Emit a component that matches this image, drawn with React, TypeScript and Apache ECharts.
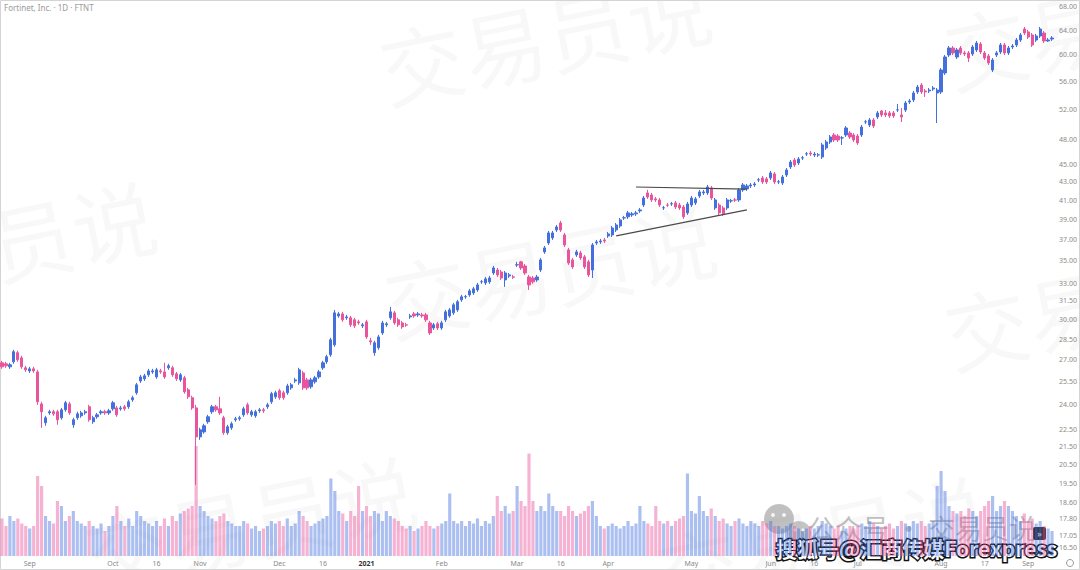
import React, { useEffect, useRef } from "react";
import * as echarts from "echarts";

// Trading calendar
const FIRST_DAY = "2020-08-21";
const LAST_DAY = "2021-09-10";
const HOLIDAYS = ["2020-09-07", "2020-11-26", "2020-12-25", "2021-01-01", "2021-01-18", "2021-02-15", "2021-04-02", "2021-05-31", "2021-07-05", "2021-09-06"];
const MID_MONTH_TICKS = ["2020-10-16", "2020-12-16", "2021-03-16", "2021-06-16", "2021-08-17"];
const MONTHS = ["Jan", "Feb", "Mar", "Apr", "May", "Jun", "Jul", "Aug", "Sep", "Oct", "Nov", "Dec"];

// Right price scale labels
const PRICE_TICKS = [68, 64, 60, 56, 52, 48, 45, 43, 41, 39, 37, 35, 33, 31.5, 30, 28.5, 27, 25.5, 24, 22.5, 21.5, 20.5, 19.5, 18.6, 17.8, 17.05, 16.5];
const PRICE_MIN = 16.15;
const PRICE_MAX = 69.23;

const OPEN = [
  26.78, 26.71, 26.50, 26.85, 27.50, 27.13, 26.43, 26.22, 26.36, 26.15,
  24.05, 22.89, 23.49, 23.56, 23.56, 23.19, 23.68, 24.05, 22.77, 23.19,
  23.31, 23.49, 23.87, 22.95, 23.25, 23.49, 23.56, 23.49, 23.74, 23.80,
  23.74, 23.87, 23.87, 24.31, 24.76, 25.54, 25.68, 25.95, 26.15, 25.81,
  26.22, 26.15, 26.43, 26.43, 26.02, 25.61, 25.75, 24.95, 24.44, 23.80,
  22.06, 22.35, 22.95, 23.56, 23.87, 23.74, 23.19, 22.30, 22.59, 23.07,
  23.13, 23.37, 23.99, 23.37, 23.31, 23.62, 23.68, 23.87, 24.18, 24.50,
  24.89, 24.76, 24.76, 25.08, 25.54, 25.41, 26.08, 25.61, 25.15, 25.48,
  25.81, 26.43, 26.85, 27.35, 28.07, 30.28, 30.44, 30.13, 30.13, 29.97,
  29.81, 29.50, 29.81, 28.37, 27.50, 27.86, 28.96, 29.58, 30.13, 30.52,
  29.97, 29.73, 29.58, 30.20, 30.44, 30.36, 30.36, 30.36, 29.73, 29.34,
  29.66, 29.34, 29.97, 30.28, 30.52, 30.76, 31.58, 31.83, 31.99, 32.16,
  32.41, 33.10, 33.01, 33.10, 33.88, 34.15, 33.97, 33.27, 33.62, 33.53,
  34.60, 34.88, 34.51, 33.53, 33.44, 33.27, 34.15, 35.80, 36.65, 37.14,
  37.92, 38.62, 37.43, 35.99, 35.06, 35.52, 35.71, 35.34, 34.88, 34.15,
  36.65, 36.75, 36.94, 37.33, 37.43, 37.92, 38.32, 39.13, 39.24, 39.44,
  39.55, 39.86, 40.48, 41.78, 41.56, 41.13, 41.02, 40.17, 40.48, 40.59,
  40.70, 40.48, 40.27, 39.65, 40.48, 40.70, 41.45, 41.78, 41.78, 42.33,
  40.17, 40.48, 40.17, 40.17, 40.91, 41.02, 41.02, 42.11, 42.22, 42.55,
  42.66, 43.22, 43.45, 43.34, 43.45, 43.91, 42.99, 42.88, 43.79, 44.72,
  45.54, 45.19, 45.78, 46.26, 46.38, 46.14, 46.14, 45.90, 47.00, 47.74,
  48.62, 48.49, 48.24, 48.62, 48.87, 48.62, 48.49, 48.62, 50.31, 49.91,
  50.57, 50.97, 51.78, 51.51, 51.51, 51.51, 51.91, 51.24, 51.91, 53.01,
  53.29, 54.42, 55.42, 54.56, 54.56, 54.84, 54.27, 54.42, 57.19, 59.95,
  61.06, 59.64, 61.06, 60.27, 60.27, 60.11, 60.74, 61.70, 60.27, 59.80,
  57.64, 59.95, 60.42, 61.54, 60.27, 61.22, 61.54, 62.35, 64.17, 63.67,
  63.17, 62.35, 63.00, 63.50, 62.19, 62.51,
];

const CLOSE = [
  26.50, 26.57, 26.64, 27.57, 26.99, 26.50, 26.29, 26.36, 26.22, 24.18,
  23.56, 23.19, 23.56, 23.43, 23.07, 23.68, 24.12, 23.49, 23.07, 23.43,
  23.49, 23.56, 23.07, 23.19, 23.37, 23.56, 23.49, 23.62, 24.12, 23.37,
  23.80, 23.74, 24.18, 24.44, 25.28, 25.81, 25.88, 26.22, 26.22, 26.29,
  26.15, 25.81, 26.57, 25.95, 25.68, 25.95, 24.82, 24.50, 23.80, 22.06,
  22.47, 22.71, 23.25, 23.87, 23.68, 23.49, 22.30, 22.65, 22.83, 23.13,
  23.19, 23.74, 23.49, 23.56, 23.56, 23.68, 23.62, 23.99, 24.70, 24.76,
  24.44, 24.44, 25.21, 25.28, 25.61, 26.29, 25.08, 25.08, 25.61, 25.75,
  26.15, 26.78, 27.21, 28.44, 30.52, 30.44, 29.97, 30.20, 29.58, 29.50,
  29.73, 29.58, 28.66, 28.29, 28.22, 28.66, 29.73, 29.66, 30.60, 29.73,
  29.58, 29.42, 29.56, 30.28, 30.28, 30.44, 30.28, 29.97, 28.96, 29.58,
  29.34, 29.73, 30.60, 30.76, 31.17, 31.42, 31.83, 31.85, 32.33, 32.50,
  32.84, 33.12, 33.36, 33.44, 34.33, 33.71, 33.44, 33.88, 33.71, 33.51,
  34.62, 34.33, 33.88, 32.84, 33.10, 33.53, 35.06, 36.18, 37.63, 37.63,
  38.22, 37.92, 36.46, 34.78, 34.42, 35.80, 35.24, 34.42, 33.71, 36.46,
  36.75, 36.84, 36.84, 37.53, 38.12, 38.42, 38.93, 39.15, 39.65, 39.55,
  39.65, 39.96, 41.23, 41.34, 41.02, 41.02, 40.48, 40.19, 40.46, 40.61,
  40.27, 40.17, 39.24, 40.59, 41.23, 41.13, 41.89, 41.89, 42.44, 41.23,
  41.02, 39.65, 39.55, 41.02, 40.93, 41.00, 42.11, 42.66, 42.55, 42.66,
  42.77, 43.24, 42.99, 42.99, 44.02, 42.99, 43.01, 43.56, 44.37, 45.30,
  44.95, 45.66, 45.80, 46.28, 46.26, 46.26, 46.16, 47.37, 47.74, 48.37,
  47.99, 47.99, 48.26, 49.52, 48.37, 47.99, 47.62, 49.65, 50.33, 50.57,
  49.78, 51.51, 51.24, 51.24, 51.11, 51.11, 51.93, 50.97, 52.87, 53.15,
  54.27, 55.13, 54.42, 54.42, 54.70, 54.99, 54.70, 57.64, 59.64, 61.06,
  60.27, 60.74, 60.27, 60.11, 59.48, 61.22, 61.86, 60.42, 59.48, 58.71,
  59.17, 60.27, 61.54, 60.27, 61.06, 61.38, 62.35, 63.17, 63.50, 62.84,
  61.54, 63.00, 64.17, 62.19, 62.35, 62.68,
];

const LOW = [
  26.36, 26.43, 26.36, 26.71, 26.85, 26.36, 26.15, 26.08, 26.08, 23.99,
  22.59, 22.71, 23.37, 23.31, 22.77, 23.07, 23.56, 23.37, 22.59, 23.07,
  23.19, 23.37, 22.95, 22.83, 23.13, 23.37, 23.37, 23.37, 23.62, 23.25,
  23.62, 23.62, 23.74, 24.18, 24.63, 25.41, 25.54, 25.81, 26.02, 25.68,
  26.02, 25.68, 26.29, 25.81, 25.54, 25.48, 24.70, 24.37, 23.68, 19.46,
  21.89, 22.24, 22.83, 23.43, 23.56, 23.37, 22.18, 22.18, 22.47, 22.95,
  23.01, 23.25, 23.37, 23.25, 23.19, 23.49, 23.49, 23.74, 24.05, 24.37,
  24.31, 24.31, 24.63, 24.95, 25.41, 25.28, 24.95, 24.95, 25.02, 25.35,
  25.68, 26.29, 26.71, 27.21, 27.93, 30.13, 29.81, 29.97, 29.42, 29.34,
  29.58, 29.34, 28.51, 28.07, 27.28, 27.71, 28.81, 29.42, 29.97, 29.58,
  29.42, 29.27, 29.42, 30.05, 30.13, 30.20, 30.13, 29.81, 28.81, 29.19,
  29.19, 29.19, 29.81, 30.13, 30.36, 30.60, 31.42, 31.66, 31.83, 31.99,
  32.25, 32.93, 32.84, 32.93, 33.71, 33.53, 33.27, 32.67, 33.44, 33.36,
  34.42, 34.15, 33.71, 32.41, 32.93, 33.10, 33.97, 35.62, 36.46, 36.94,
  37.72, 37.72, 36.27, 34.60, 34.24, 35.34, 35.06, 34.24, 33.53, 33.44,
  36.46, 36.56, 36.65, 37.14, 37.23, 37.72, 38.12, 38.93, 39.03, 39.24,
  39.34, 39.65, 40.27, 41.13, 40.81, 40.81, 40.27, 39.96, 40.27, 40.38,
  40.06, 39.96, 39.03, 39.44, 40.27, 40.48, 41.23, 41.56, 41.56, 41.02,
  39.96, 39.44, 39.34, 39.96, 40.70, 40.81, 40.81, 41.89, 42.00, 42.33,
  42.44, 42.99, 42.77, 42.77, 43.22, 42.77, 42.77, 42.66, 43.56, 44.48,
  44.72, 44.95, 45.54, 46.02, 46.02, 45.90, 45.90, 45.66, 46.75, 47.49,
  47.74, 47.74, 47.37, 48.37, 48.12, 47.74, 47.37, 48.37, 50.04, 49.65,
  49.52, 50.70, 50.97, 50.97, 50.84, 50.84, 51.64, 50.31, 51.64, 52.74,
  53.01, 54.13, 54.13, 53.71, 54.27, 54.56, 50.17, 54.13, 56.89, 59.64,
  59.95, 59.33, 59.95, 59.80, 58.86, 59.80, 60.42, 60.11, 59.17, 58.40,
  57.34, 59.64, 60.11, 59.95, 59.95, 60.90, 61.22, 62.03, 63.17, 62.51,
  61.22, 62.03, 62.68, 61.86, 62.03, 62.19,
];

const HIGH = [
  26.92, 26.85, 26.78, 27.71, 27.64, 27.28, 26.57, 26.50, 26.50, 26.29,
  24.18, 23.31, 23.68, 23.68, 23.68, 23.80, 24.24, 24.18, 23.19, 23.56,
  23.62, 23.68, 23.99, 23.31, 23.49, 23.68, 23.68, 23.74, 24.24, 23.93,
  23.93, 23.99, 24.31, 24.57, 25.41, 25.95, 26.02, 26.36, 26.36, 26.43,
  26.36, 26.78, 26.71, 26.57, 26.15, 26.08, 25.88, 25.08, 24.57, 23.99,
  22.59, 22.83, 23.37, 23.99, 23.99, 24.50, 23.31, 22.77, 22.95, 23.25,
  23.31, 23.87, 24.12, 23.68, 23.68, 23.80, 23.80, 24.12, 24.82, 24.89,
  25.02, 24.89, 25.35, 25.41, 25.75, 26.43, 26.22, 25.75, 25.75, 25.88,
  26.29, 26.92, 27.35, 28.59, 30.76, 30.60, 30.60, 30.36, 30.28, 30.13,
  29.97, 29.73, 29.97, 28.59, 28.37, 28.81, 29.89, 29.81, 31.00, 30.68,
  30.13, 29.89, 29.73, 30.44, 30.60, 30.60, 30.52, 30.52, 29.89, 29.73,
  29.81, 29.89, 30.76, 30.92, 31.33, 31.58, 31.99, 31.99, 32.50, 32.67,
  33.01, 33.27, 33.53, 33.62, 34.51, 34.33, 34.15, 34.06, 33.88, 33.71,
  34.88, 34.97, 34.69, 33.71, 33.62, 33.71, 35.24, 36.37, 37.82, 37.82,
  38.42, 38.83, 37.63, 36.18, 35.24, 35.99, 35.90, 35.52, 35.06, 36.65,
  36.94, 37.04, 37.14, 37.72, 38.32, 38.62, 39.13, 39.34, 39.86, 39.75,
  39.86, 40.17, 41.45, 42.11, 41.78, 41.34, 41.23, 40.38, 40.70, 40.81,
  40.91, 40.70, 40.48, 40.81, 41.45, 41.34, 42.11, 42.11, 42.66, 42.55,
  41.23, 40.70, 40.38, 41.23, 41.13, 41.23, 42.33, 42.88, 42.77, 42.88,
  42.99, 43.45, 43.68, 43.56, 44.25, 44.14, 43.22, 43.79, 44.60, 45.54,
  45.78, 45.90, 46.02, 46.51, 46.63, 46.51, 46.38, 47.62, 47.99, 48.62,
  48.87, 48.74, 48.49, 49.78, 49.13, 48.87, 48.74, 49.91, 50.57, 50.84,
  50.84, 51.78, 51.91, 51.91, 51.78, 51.78, 52.74, 52.19, 53.15, 53.43,
  54.56, 55.42, 55.71, 54.84, 54.99, 55.27, 54.99, 57.94, 59.95, 61.38,
  61.38, 61.06, 61.38, 60.58, 60.58, 61.54, 62.19, 62.03, 60.58, 60.11,
  59.48, 60.58, 61.86, 61.86, 61.38, 61.70, 62.68, 63.50, 64.51, 64.00,
  63.50, 63.34, 64.51, 63.83, 62.68, 63.00,
];

// Volume, millions of shares
const VOLUME = [
  7.5, 6, 8, 7, 7.5, 6.5, 6, 5.5, 6, 16,
  14, 8, 7, 6.5, 11, 10, 7, 8, 9, 7,
  6.5, 6, 7, 6, 5.5, 6.5, 5, 6, 8, 10,
  7, 6, 7.5, 6, 9, 8, 7, 6.5, 6, 7,
  6, 7.5, 6, 8, 7, 8.5, 9, 9.5, 10, 22,
  10, 9, 8, 7.5, 7, 8, 8.5, 7, 6.5, 6,
  6, 7, 6.5, 5.5, 6, 5, 5.5, 6, 7, 6.5,
  7, 6, 7.5, 6, 6.5, 9, 8, 7, 6, 6.5,
  7, 7.5, 8, 15.5, 13, 9, 8.5, 7, 9, 8,
  14, 9, 10, 8, 9, 8.5, 7, 9, 8, 7.5,
  7, 6, 5.5, 6, 5, 5.5, 6, 7, 6, 5.5,
  6, 6.5, 7, 12.5, 7, 6.5, 7, 6, 7, 6.5,
  7.5, 6, 7, 6.5, 8, 12, 9, 10, 8.5, 9,
  14, 11, 10, 20.5, 11, 9, 10, 9, 12.5, 10,
  9, 9, 8, 10, 9, 8, 8.5, 9, 10, 11,
  8, 6, 5.5, 6, 6.5, 6, 5.5, 6, 7, 6,
  6.5, 10, 7, 6.5, 6, 10, 7, 6.5, 7, 6,
  7, 7.5, 8, 16.5, 9, 8.5, 12, 9, 8, 9.5,
  8, 7, 7.5, 6.5, 6, 7, 7.5, 6.5, 6, 7,
  6.5, 6, 7, 6.5, 7, 6, 6, 5.5, 6, 6.5,
  6, 5.5, 5, 5.5, 6, 5.5, 6, 7, 6.5, 6,
  5.5, 6, 5, 5.5, 6, 5.5, 6, 6.5, 6, 7,
  6.5, 6, 5.5, 6, 6.5, 5.5, 6, 7, 6.5, 6,
  7, 6.5, 7, 6, 6.5, 7, 14, 17, 13, 10,
  9, 8.5, 9, 8, 9.5, 9, 8, 9, 10, 11,
  12, 9, 10, 11, 10, 9, 8, 7, 8.5, 7,
  7.5, 6.5, 7, 6, 5.5, 5,
];

const TRIANGLE_UPPER = [
  { index: 160, price: 42.43 },
  { index: 188, price: 42.2 },
];
const TRIANGLE_LOWER = [
  { index: 155, price: 37.33 },
  { index: 188, price: 39.96 },
];

const UP = "#4470dd";
const DOWN = "#e8559c";
const UP_VOL = "rgba(68,112,221,0.45)";
const DOWN_VOL = "rgba(232,85,156,0.45)";

function isoDate(d: Date) {
  return d.toISOString().slice(0, 10);
}

function tradingDays(): string[] {
  const out: string[] = [];
  const hol = new Set(HOLIDAYS);
  const d = new Date(FIRST_DAY + "T00:00:00Z");
  const end = new Date(LAST_DAY + "T00:00:00Z");
  while (d <= end) {
    const wd = d.getUTCDay();
    const s = isoDate(d);
    if (wd !== 0 && wd !== 6 && !hol.has(s)) out.push(s);
    d.setUTCDate(d.getUTCDate() + 1);
  }
  return out;
}

export default function App() {
  const ref = useRef<HTMLDivElement>(null);

  useEffect(() => {
    if (!ref.current) return;
    const chart = echarts.init(ref.current, undefined, { renderer: "svg" });
    const dates = tradingDays();
    const labelMap: Record<number, string> = {};
    dates.forEach((s, i) => {
      const prev = i > 0 ? dates[i - 1] : null;
      const m = +s.slice(5, 7);
      if (prev && prev.slice(5, 7) !== s.slice(5, 7)) {
        labelMap[i] = m === 1 ? "{y|" + s.slice(0, 4) + "}" : MONTHS[m - 1];
      }
      if (MID_MONTH_TICKS.indexOf(s) >= 0) labelMap[i] = String(+s.slice(8, 10));
    });

    const candles = dates.map((_, i) => [
      Math.log(OPEN[i]),
      Math.log(CLOSE[i]),
      Math.log(LOW[i]),
      Math.log(HIGH[i]),
    ]);
    const vols = dates.map((_, i) => ({
      value: VOLUME[i],
      itemStyle: { color: CLOSE[i] >= OPEN[i] ? UP_VOL : DOWN_VOL },
    }));

    const seg = (pts: { index: number; price: number }[]) => [
      { coord: [pts[0].index, Math.log(pts[0].price)] },
      { coord: [pts[1].index, Math.log(pts[1].price)] },
    ];

    const font = "Noto Sans";
    const wm = (text: string, x: number, y: number) => ({
      type: "text",
      x,
      y,
      rotation: 0.2,
      silent: true,
      z: 0,
      style: {
        text,
        fill: "rgba(0,0,0,0.028)",
        font: "84px 'Noto Sans CJK SC'",
        align: "center",
        verticalAlign: "middle",
      },
    });

    chart.setOption({
      animation: false,
      backgroundColor: "#ffffff",
      grid: [
        { left: 0, right: 26, top: 0, bottom: 14 },
        { left: 0, right: 26, top: 431, bottom: 14 },
      ],
      xAxis: [
        {
          type: "category",
          data: dates,
          gridIndex: 0,
          boundaryGap: true,
          axisLine: { show: false },
          axisTick: { show: false },
          splitLine: { show: false },
          axisLabel: {
            interval: (idx: number) => labelMap[idx] !== undefined,
            formatter: (_v: string, idx: number) => labelMap[idx] || "",
            fontSize: 7,
            color: "#8a8a8a",
            fontFamily: font,
            margin: 4,
            rich: { y: { fontSize: 7, fontWeight: "bold", color: "#333", fontFamily: font } },
          },
        },
        {
          type: "category",
          data: dates,
          gridIndex: 1,
          boundaryGap: true,
          show: false,
        },
      ],
      yAxis: [
        {
          type: "value",
          gridIndex: 0,
          position: "right",
          min: Math.log(PRICE_MIN),
          max: Math.log(PRICE_MAX),
          scale: true,
          axisLine: { show: false },
          axisTick: { show: false },
          splitLine: { show: false },
          axisLabel: {
            customValues: PRICE_TICKS.map((p) => Math.log(p)),
            formatter: (v: number) => Math.exp(v).toFixed(2),
            fontSize: 7,
            color: "#8a8a8a",
            fontFamily: font,
            margin: 5,
            align: "left",
          },
        },
        {
          type: "value",
          gridIndex: 1,
          min: 0,
          max: 25,
          show: false,
          splitLine: { show: false },
        },
      ],
      series: [
        {
          type: "bar",
          xAxisIndex: 1,
          yAxisIndex: 1,
          data: vols,
          barWidth: "80%",
          z: 1,
          silent: true,
        },
        {
          type: "candlestick",
          xAxisIndex: 0,
          yAxisIndex: 0,
          data: candles,
          barWidth: "68%",
          z: 3,
          silent: true,
          itemStyle: {
            color: UP,
            color0: DOWN,
            borderColor: UP,
            borderColor0: DOWN,
            borderWidth: 1,
          },
          markLine: {
            silent: true,
            symbol: "none",
            label: { show: false },
            lineStyle: { color: "#4a4a4a", width: 1.2, type: "solid" },
            data: [seg(TRIANGLE_UPPER), seg(TRIANGLE_LOWER)],
          },
        },
      ],
      graphic: [
        wm("交易员说", 545, 35),
        wm("交易员说", 1110, 20),
        wm("交易员说", -10, 245),
        wm("交易员说", 550, 268),
        wm("交易员说", 1110, 300),
        wm("交易员说", 250, 520),
        wm("交易员说", 820, 540),
        {
          type: "text",
          left: 4,
          top: 3,
          silent: true,
          style: { text: "Fortinet, Inc. · 1D · FTNT", fill: "#9a9a9a", font: "8px 'Noto Sans'" },
        },
        {
          type: "group",
          silent: true,
          z: 50,
          children: [
            { type: "circle", shape: { cx: 779, cy: 519, r: 15 }, style: { fill: "rgba(140,140,140,0.55)" } },
            { type: "circle", shape: { cx: 799, cy: 533, r: 12 }, style: { fill: "rgba(150,150,150,0.55)" } },
            { type: "circle", shape: { cx: 773, cy: 515, r: 2 }, style: { fill: "rgba(255,255,255,0.8)" } },
            { type: "circle", shape: { cx: 784, cy: 515, r: 2 }, style: { fill: "rgba(255,255,255,0.8)" } },
            { type: "circle", shape: { cx: 795, cy: 530, r: 1.6 }, style: { fill: "rgba(255,255,255,0.8)" } },
            { type: "circle", shape: { cx: 803, cy: 530, r: 1.6 }, style: { fill: "rgba(255,255,255,0.8)" } },
            {
              type: "text",
              x: 808,
              y: 527,
              style: {
                text: "公众号 · 交易员说",
                fill: "rgba(140,140,140,0.55)",
                font: "27px 'Noto Sans CJK SC'",
                verticalAlign: "middle",
              },
            },
            { type: "rect", shape: { x: 1033, y: 527, width: 13, height: 13, r: 2 }, style: { fill: "#2b2b2b" } },
            {
              type: "text",
              x: 1039.5,
              y: 533.5,
              style: { text: "»", fill: "#ffffff", font: "9px 'Noto Sans'", align: "center", verticalAlign: "middle" },
            },
            {
              type: "text",
              x: 776,
              y: 548,
              style: {
                text: "搜狐号@汇商传媒Forexpress",
                fill: "#ffffff",
                stroke: "#111111",
                lineWidth: 3,
                font: "bold 21px 'Noto Sans CJK SC'",
                verticalAlign: "middle",
              },
            },
          ],
        },
        {
          type: "circle",
          silent: true,
          shape: { cx: 1070, cy: 563, r: 3.5 },
          style: { fill: "none", stroke: "#9a9a9a", lineWidth: 1 },
        },
        {
          type: "rect",
          silent: true,
          shape: { x: 0.5, y: 0.5, width: 1079, height: 569 },
          style: { fill: "none", stroke: "#d4d4d4", lineWidth: 1 },
        },
      ],
    });

    return () => chart.dispose();
  }, []);

  return (
    <div
      ref={ref}
      style={{ position: "fixed", left: 0, top: 0, width: 1080, height: 570 }}
    />
  );
}
